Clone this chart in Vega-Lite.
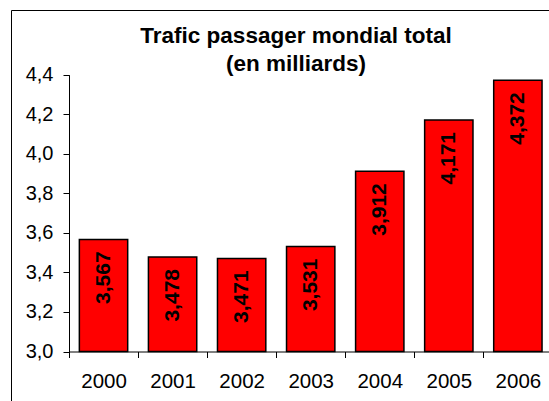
{
  "$schema": "https://vega.github.io/schema/vega-lite/v6.json",
  "autosize": "none",
  "padding": {"left": 11, "top": 10, "right": 0, "bottom": 0},
  "width": 538,
  "height": 391,
  "background": "#ffffff",
  "title": {
    "text": ["Trafic passager mondial total", "(en milliards)"],
    "font": "Liberation Sans",
    "fontSize": 22.5,
    "fontWeight": "bold",
    "color": "#000000",
    "lineHeight": 28.3,
    "anchor": "middle",
    "frame": "group",
    "dx": 16,
    "offset": -66
  },
  "data": {
    "values": [
      {"year": "2000", "value": 3.567},
      {"year": "2001", "value": 3.478},
      {"year": "2002", "value": 3.471},
      {"year": "2003", "value": 3.531},
      {"year": "2004", "value": 3.912},
      {"year": "2005", "value": 4.171},
      {"year": "2006", "value": 4.372}
    ]
  },
  "encoding": {
    "x": {
      "field": "year",
      "type": "nominal",
      "sort": null,
      "scale": {"range": [58, 541.4], "paddingInner": 0, "paddingOuter": 0},
      "axis": {
        "title": null,
        "orient": "bottom",
        "offset": -49.5,
        "labelAngle": 0,
        "tickBand": "extent",
        "tickSize": 6,
        "tickColor": "#000000",
        "domainColor": "#000000",
        "labelColor": "#000000",
        "labelFont": "Liberation Sans",
        "labelFontSize": 20.5,
        "labelPadding": 14,
        "grid": false
      }
    },
    "y": {
      "field": "value",
      "type": "quantitative",
      "scale": {"domain": [3, 4.4], "zero": false, "nice": false, "range": [341.5, 64.7]},
      "axis": {
        "title": null,
        "orient": "left",
        "offset": -58,
        "values": [3, 3.2, 3.4, 3.6, 3.8, 4, 4.2, 4.4],
        "format": ".1f",
        "tickSize": 6,
        "tickColor": "#000000",
        "domainColor": "#000000",
        "labelColor": "#000000",
        "labelFont": "Liberation Sans",
        "labelFontSize": 20,
        "labelPadding": 10,
        "grid": false
      }
    }
  },
  "layer": [
    {
      "mark": {"type": "bar", "fill": "#ff0000", "stroke": "#000000", "strokeWidth": 1.5, "width": {"band": 0.7}},
      "encoding": {
        "y2": {"datum": 3}
      }
    },
    {
      "mark": {
        "type": "text",
        "angle": 270,
        "align": "right",
        "baseline": "middle",
        "dx": -12,
        "font": "Liberation Sans",
        "fontSize": 21,
        "fontWeight": "bold",
        "color": "#000000"
      },
      "encoding": {
        "text": {"field": "value", "type": "quantitative", "format": ".3f"}
      }
    }
  ],
  "config": {
    "locale": {
      "number": {"decimal": ",", "thousands": " ", "grouping": [3], "currency": ["", " €"]}
    },
    "view": {"stroke": "#000000", "strokeWidth": 1}
  }
}
